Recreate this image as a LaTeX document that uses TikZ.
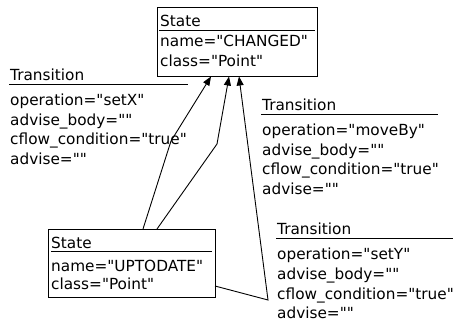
\documentclass[tikz,border=0pt]{standalone}
\usepackage{fontspec}
\setmainfont{DejaVu Sans}[Ligatures=TeXOff]
\usetikzlibrary{arrows.meta}
\begin{document}
\begin{tikzpicture}[x=1pt,y=-1pt,
  lbl/.style={anchor=base west,inner sep=0pt,font=\fontsize{15.3}{18}\selectfont},
  statebox/.style={draw,line width=1.2pt,anchor=north west,inner sep=0pt},
  rule/.style={line width=1pt},
  conn/.style={line width=0.9pt},
  tip/.style={-{Triangle[length=9pt,width=7pt]}}]
\useasboundingbox (0,0) rectangle (453,326);
% State CHANGED
\node[statebox,minimum width=160pt,minimum height=69pt] (changed) at (157,7) {};
\node[lbl] (cs) at (160,27) {State};
\draw[rule] (159,31) coordinate (cl1) -- (315,31) coordinate (cl2);
\node[lbl] (cn) at (160,47) {name="CHANGED"};
\node[lbl] (cc) at (160,67) {class="Point"};
% State UPTODATE
\node[statebox,minimum width=167pt,minimum height=68pt] (uptodate) at (48,229) {};
\node[lbl] (us) at (51,248) {State};
\draw[rule] (51,252) coordinate (ul1) -- (212,252) coordinate (ul2);
\node[lbl] (un) at (51,271) {name="UPTODATE"};
\node[lbl] (uc) at (51,290) {class="Point"};
% Transition setX
\node[lbl] (t1) at (10,81) {Transition};
\draw[rule] (9,85) coordinate (t1a) -- (188,85) coordinate (t1b);
\node[lbl] (t1o) at (10,106) {operation="setX"};
\node[lbl] (t1b2) at (10,125.5) {advise\_body=""};
\node[lbl] (t1c) at (10,145) {cflow\_condition="true"};
\node[lbl] (t1d) at (10,164.5) {advise=""};
% Transition moveBy
\node[lbl] (t2) at (262,111) {Transition};
\draw[rule] (261,115) coordinate (t2a) -- (438,115) coordinate (t2b);
\node[lbl] (t2o) at (262,136) {operation="moveBy"};
\node[lbl] (t2b2) at (262,155.5) {advise\_body=""};
\node[lbl] (t2c) at (262,175) {cflow\_condition="true"};
\node[lbl] (t2d) at (262,194.5) {advise=""};
% Transition setY
\node[lbl] (t3) at (277,235) {Transition};
\draw[rule] (276,239) coordinate (t3a) -- (453,239) coordinate (t3b);
\node[lbl] (t3o) at (277,260) {operation="setY"};
\node[lbl] (t3b2) at (277,279.5) {advise\_body=""};
\node[lbl] (t3c) at (277,299) {cflow\_condition="true"};
\node[lbl] (t3d) at (277,318.5) {advise=""};
% connector points
\coordinate (s1) at (143,229);
\coordinate (b1) at (171,141);
\coordinate (e1) at (211,76.5);
\coordinate (s2) at (157,229);
\coordinate (b2) at (217,144);
\coordinate (e2) at (229,76.5);
\coordinate (s3) at (215,286);
\coordinate (b3) at (268,300);
\coordinate (e3) at (239,76.5);
\draw[conn,tip] (s1) -- (b1) -- (e1);
\draw[conn,tip] (s2) -- (b2) -- (e2);
\draw[conn,tip] (s3) -- (b3) -- (e3);
\end{tikzpicture}
\end{document}
